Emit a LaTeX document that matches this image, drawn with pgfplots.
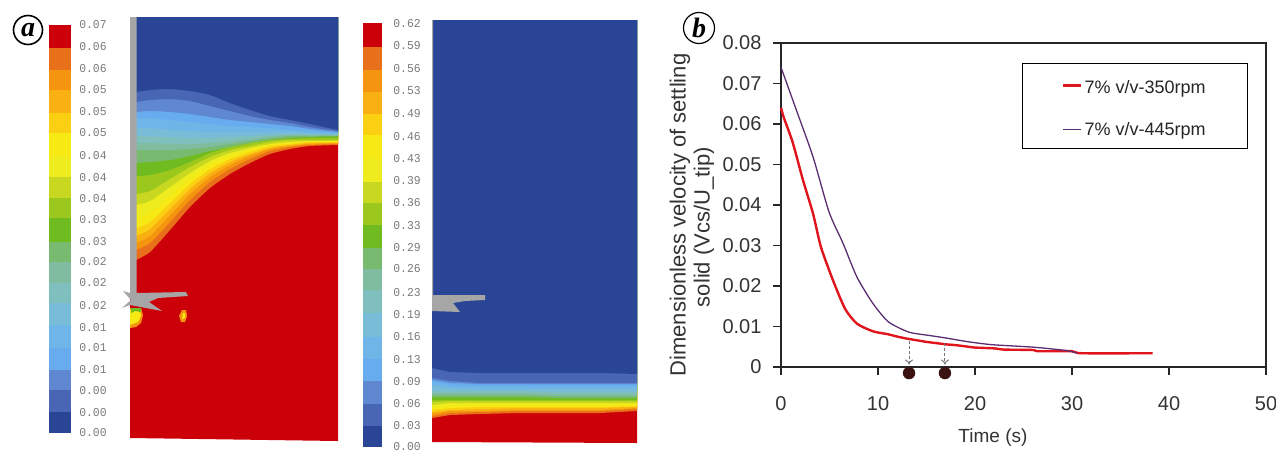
\documentclass[border=0pt]{standalone}
\usepackage{pgfplots}
\pgfplotsset{compat=1.18}
\usepackage{pgfplotstable}
\usepackage{fontspec}
\usetikzlibrary{arrows.meta}
\setmainfont{Liberation Sans}
\newfontfamily\bitfont{Liberation Mono}
\newfontfamily\letterfont{Liberation Serif}
\definecolor{c1}{HTML}{CC0008}
\definecolor{c2}{HTML}{E8701A}
\definecolor{c3}{HTML}{F5940F}
\definecolor{c4}{HTML}{FAB012}
\definecolor{c5}{HTML}{FBCF12}
\definecolor{c6}{HTML}{F7EA14}
\definecolor{c7}{HTML}{EEEB1E}
\definecolor{c8}{HTML}{C8D820}
\definecolor{c9}{HTML}{9CC81E}
\definecolor{c10}{HTML}{70BC20}
\definecolor{c11}{HTML}{78BA70}
\definecolor{c12}{HTML}{80BDA0}
\definecolor{c13}{HTML}{7FC0BE}
\definecolor{c14}{HTML}{78BCD8}
\definecolor{c15}{HTML}{70B5E8}
\definecolor{c16}{HTML}{68ACF0}
\definecolor{c17}{HTML}{6088D0}
\definecolor{c18}{HTML}{4866B4}
\definecolor{c19}{HTML}{2A4596}
\definecolor{impeller}{HTML}{A6A6A6}
\definecolor{curvered}{HTML}{E0141C}
\definecolor{curvepurple}{HTML}{5A2D72}
\definecolor{dotdark}{HTML}{3A1212}

% contour boundaries, panel a, left field (y in picture pixels)
\pgfplotstableread{
x   k2  k3  k4  k5  k6  k7  k8  k9  k10 k11 k12 k13 k14 k15 k16 k17 k18 k19
136 260 250 243 236 228 218 205 194 176 163 150 143 136 128 118 112 102 92
150 252 243 236 229 222 213 201 191 175 162 150 143 136 128 118 111 100 90
170 230 222 215 209 203 196 187 179 170 160 150 144 137 130 120 112 99  89
190 207 200 194 189 184 179 173 167 162 156 149 144 138 131 122 114 101 91
210 188 182 177 173 169 165 161 157 153 151 147 143 138 132 124 117 106 95
230 174 169 165 162 159 156 153 150 147 147 144 141 137 132 126 120 111 103
250 163 159 156 154 152 150 148 146 143 143 141 139 136 132 127 122 116 110
270 154 151 149 148 146 145 144 142 140 140 138 136 135 132 128 124 120 116
290 149 147 146 145 144 143 142 140 139 138 136 135 134 132 130 126 123 120
310 146 145 144 143 142 142 141 140 138 137 136 135 134 133 131 129 127 124
338 145 144 143 143 142 141 141 140 138 136 136 135 134 134 133 132 131 130
}\tabA
% right field
\pgfplotstableread{
x   k2  k3  k4  k5  k6  k7  k8  k9  k10 k11 k12 k13 k14 k15 k16 k17 k18 k19
432 418 416 414 412 410 408 405 402 400 397 395 393 391 386 382 380 378 368
450 415 413 411 410 408 406 403 401 400 397 395 393 391 388 385 383 381 372
480 414 412 411 409 407 405 403 401 400 397 395 393 391 389 386 384 383 373
520 413 411 410 408 407 405 403 401 400 397 395 393 391 389 386 384 383 373
560 413 411 410 408 407 405 403 401 400 398 396 394 392 389 386 384 383 373
600 413 411 410 408 407 405 403 401 400 398 396 394 392 389 386 384 383 373
637 411 409 408 407 406 404 403 401 400 398 396 394 392 389 386 384 383 374
}\tabB

\newcommand{\cbA}[3]{\addplot[fill=#1,draw=none] coordinates {(49,#2)(71,#2)(71,#3)(49,#3)} -- cycle;}
\newcommand{\cbB}[3]{\addplot[fill=#1,draw=none] coordinates {(363,#2)(382,#2)(382,#3)(363,#3)} -- cycle;}
\newcommand{\lab}[3]{\node[text=black!52,font=\bitfont\fontsize{12}{12}\selectfont,xscale=0.95] at (#1,#2) {#3};}

\begin{document}
\begin{tikzpicture}[x=1pt,y=1pt]
\useasboundingbox (0,0) rectangle (1276,453);
\begin{axis}[
  at={(0pt,0pt)},anchor=south west,scale only axis,width=1276pt,height=453pt,
  xmin=0,xmax=1276,ymin=0,ymax=453,y dir=reverse,hide axis,clip=false]
% colour bars
\cbA{c1}{24.7}{48.3}\cbA{c2}{48.3}{70}\cbA{c3}{70}{90}\cbA{c4}{90}{113.3}\cbA{c5}{113.3}{133.3}
\cbA{c6}{133.3}{156.7}\cbA{c7}{156.7}{176.7}\cbA{c8}{176.7}{198.3}\cbA{c9}{198.3}{218.3}\cbA{c10}{218.3}{241.7}
\cbA{c11}{241.7}{261.7}\cbA{c12}{261.7}{283.3}\cbA{c13}{283.3}{303.3}\cbA{c14}{303.3}{325}\cbA{c15}{325}{348.3}
\cbA{c16}{348.3}{370}\cbA{c17}{370}{390}\cbA{c18}{390}{412.3}\cbA{c19}{412.3}{432.7}
\cbB{c1}{22.7}{46.7}\cbB{c2}{46.7}{70}\cbB{c3}{70}{91.7}\cbB{c4}{91.7}{114}\cbB{c5}{114}{135}
\cbB{c6}{135}{159.3}\cbB{c7}{159.3}{181.7}\cbB{c8}{181.7}{203.3}\cbB{c9}{203.3}{225}\cbB{c10}{225}{248.3}
\cbB{c11}{248.3}{269.3}\cbB{c12}{269.3}{290}\cbB{c13}{290}{313.3}\cbB{c14}{313.3}{336.7}\cbB{c15}{336.7}{359.3}
\cbB{c16}{359.3}{380.7}\cbB{c17}{380.7}{404}\cbB{c18}{404}{426}\cbB{c19}{426}{447.3}
% left field
\addplot[fill=c1,draw=none] coordinates {(130,17)(338,17)(338,441)(130,438)} -- cycle;
\pgfplotsinvokeforeach{2,...,19}{
  \addplot[fill=c#1,draw=none,smooth,tension=0.4] table[x=x,y=k#1]{\tabA} -- (axis cs:338,17) -- (axis cs:136,17) -- cycle;
}
% recirculation spots under the impeller
\addplot[fill=c3,draw=none] coordinates {(130,308)(141,308)(143,315)(141,323)(136,327)(130,328)} -- cycle;
\addplot[fill=c6,draw=none] coordinates {(130,310)(140,310)(141,316)(138,322)(130,325)} -- cycle;
\addplot[fill=c10,draw=none] coordinates {(131,308)(141,308)(141,312)(135,311)(131,313)} -- cycle;
\addplot[fill=c3,draw=none] coordinates {(182,310)(186,310)(187,316)(185,322)(181,322)(179,316)} -- cycle;
\addplot[fill=c6,draw=none] coordinates {(183,313)(185,313)(185,318)(182,319)} -- cycle;
\addplot[fill=impeller,draw=none] coordinates {(130,17)(136.5,17)(136.5,293)(186,292)(188,296)(158,298)(149,302)(162,311)(146,308)(130,305)(122,308)(131,300)(123,291)(130,293)} -- cycle;
% right field
\addplot[fill=c1,draw=none] coordinates {(432,20)(637,20)(637,443)(432,442)} -- cycle;
\pgfplotsinvokeforeach{2,...,19}{
  \addplot[fill=c#1,draw=none] table[x=x,y=k#1]{\tabB} -- (axis cs:637,20) -- (axis cs:432,20) -- cycle;
}
\addplot[fill=impeller,draw=none] coordinates {(432,20)(433,20)(433,295)(485,295)(485,300)(465,301)(453,303)(460,312)(432,311)} -- cycle;
% colour-bar labels
\lab{93}{25}{0.07}\lab{93}{47}{0.06}\lab{93}{69}{0.06}\lab{93}{90}{0.05}\lab{93}{112}{0.05}
\lab{93}{133}{0.05}\lab{93}{156}{0.04}\lab{93}{178}{0.04}\lab{93}{199}{0.04}\lab{93}{220}{0.03}
\lab{93}{242}{0.03}\lab{93}{262}{0.02}\lab{93}{283}{0.02}\lab{93}{306}{0.02}\lab{93}{328}{0.01}
\lab{93}{348}{0.01}\lab{93}{370}{0.01}\lab{93}{391}{0.00}\lab{93}{413}{0.00}\lab{93}{433}{0.00}
\lab{407}{24}{0.62}\lab{407}{46}{0.59}\lab{407}{69}{0.56}\lab{407}{91}{0.53}\lab{407}{114}{0.49}
\lab{407}{137}{0.46}\lab{407}{159}{0.43}\lab{407}{181}{0.39}\lab{407}{203}{0.36}\lab{407}{226}{0.33}
\lab{407}{248}{0.29}\lab{407}{269}{0.26}\lab{407}{293}{0.23}\lab{407}{315}{0.19}\lab{407}{337}{0.16}
\lab{407}{360}{0.13}\lab{407}{382}{0.09}\lab{407}{404}{0.06}\lab{407}{426}{0.03}\lab{407}{447}{0.00}
% panel letters
\node[circle,draw=black,line width=1.6pt,inner sep=0pt,minimum size=29pt,font=\letterfont\bfseries\itshape\fontsize{28}{28}\selectfont] at (28,30) {a};
\node[circle,draw=black,line width=1.2pt,inner sep=0pt,minimum size=31pt,font=\letterfont\bfseries\itshape\fontsize{28}{28}\selectfont] at (699,28) {b};
\end{axis}

\begin{axis}[
  at={(781pt,86pt)},anchor=south west,scale only axis,width=485pt,height=324pt,
  xmin=0,xmax=50,ymin=0,ymax=0.08,clip=false,scaled y ticks=false,
  axis line style={line width=1.1pt,black!85},
  xtick={0,10,...,50},ytick={0,0.01,0.02,0.03,0.04,0.05,0.06,0.07,0.08},
  yticklabels={0,0.01,0.02,0.03,0.04,0.05,0.06,0.07,0.08},
  xticklabels={0,10,20,30,40,50},
  tick style={line width=1.1pt,black!85},
  tickwidth=8pt,tick align=outside,xtick pos=bottom,ytick pos=left,
  tick label style={font=\fontsize{20}{20}\selectfont,text=black!80},
  xticklabel style={yshift=-18pt},
  yticklabel style={xshift=-8pt},
  xlabel={Time (s)},
  xlabel style={font=\fontsize{19}{19}\selectfont,text=black!80,at={(axis description cs:0.437,0)},anchor=center,yshift=-71pt},
  ylabel={Dimensionless velocity of settling\\solid (Vcs/U\_tip)\hspace*{24pt}},
  ylabel style={font=\fontsize{22}{24}\selectfont,text=black!80,align=center,at={(axis description cs:0,0.5)},anchor=center,xshift=-10pt,yshift=89pt},
  legend style={at={(axis cs:24.8,0.0750)},anchor=north west,draw=black,line width=1.2pt,
    inner xsep=40pt,inner ysep=10pt,font=\fontsize{18}{18}\selectfont,text=black!85,
    row sep=23pt,/tikz/every even column/.append style={column sep=3pt}},
  legend cell align=left,
  legend image code/.code={\draw[#1] (0pt,0pt) -- (18pt,0pt);},
]
\addplot[curvered,line width=2.4pt,smooth,tension=0.4] coordinates {
(0,0.064)(0.3,0.0615)(1.2,0.0555)(2.27,0.0461)(3.3,0.0379)(4.12,0.0296)(5.36,0.0214)(6.6,0.0144)
(7.83,0.0107)(9.5,0.0088)(11,0.0081)(12,0.0075)(13,0.0070)(14,0.0066)(15,0.0062)(16,0.0059)
(17,0.0056)(18,0.0054)(19,0.0051)(20,0.0048)(22,0.0046)(23,0.0043)(26,0.0042)(26.5,0.0039)
(30,0.0039)(31,0.0034)(38.3,0.0034)};
\addlegendentry{\rule{0pt}{18pt}7\% v/v-350rpm}
\addplot[curvepurple,line width=1.3pt,smooth,tension=0.4] coordinates {
(0,0.074)(1.65,0.063)(3.3,0.0519)(4.95,0.0383)(6.4,0.0305)(7.83,0.0222)(9.5,0.0156)(11.1,0.0111)
(13.2,0.0086)(15.25,0.0078)(16.9,0.0072)(19.4,0.0062)(21.8,0.0055)(26,0.0049)(29.3,0.0041)(30.5,0.0035)};
\addlegendentry{7\% v/v-445rpm}
\addplot[black!55,densely dashed,line width=0.9pt,-{To[length=5pt,width=8pt]},forget plot] coordinates {(13.2,0.0065)(13.2,0.0006)};
\addplot[black!55,densely dashed,line width=0.9pt,-{To[length=5pt,width=8pt]},forget plot] coordinates {(16.9,0.0060)(16.9,0.0006)};
\addplot[only marks,mark=*,mark size=6pt,mark options={fill=dotdark,draw=dotdark},forget plot] coordinates {(13.2,-0.0015)(16.9,-0.0015)};
\end{axis}
\end{tikzpicture}
\end{document}
